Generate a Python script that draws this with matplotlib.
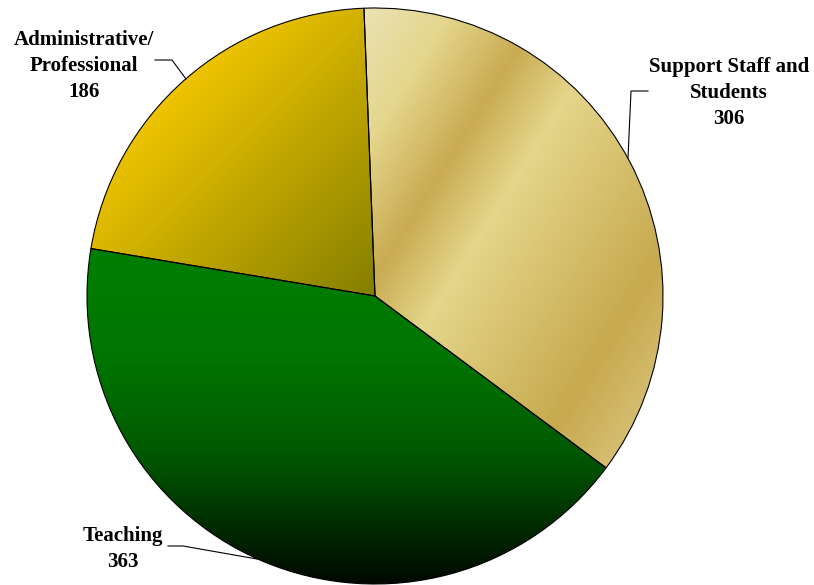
import numpy as np
import matplotlib
matplotlib.use("Agg")
import matplotlib.pyplot as plt
from matplotlib.colors import to_rgb

W, H = 814, 585

# staff counts, drawn clockwise from the top
labels = ["Support Staff and\nStudents", "Teaching", "Administrative/\nProfessional"]
counts = [306, 363, 186]

center = (375, H - 296)
radius = 288
start = 92.2

plt.rcParams['font.family'] = ['Liberation Serif', 'DejaVu Serif']

fig = plt.figure(figsize=(W / 100, H / 100), dpi=100)
ax = fig.add_axes([0, 0, 1, 1])

wedges, _ = ax.pie(counts, center=center, radius=radius, startangle=start,
                   counterclock=False,
                   wedgeprops=dict(facecolor='none', edgecolor='black', linewidth=0.8))

# pixel grid for the gradient fills (row 0 = top of figure)
X, Y = np.meshgrid(np.arange(W) + 0.5, np.arange(H) + 0.5)


def ramp(s, stops):
    pos = [p for p, c in stops]
    cols = np.array([to_rgb(c) for p, c in stops])
    return np.dstack([np.interp(s, pos, cols[:, k]) for k in range(3)])


# banded gold for support staff
s_gold = 0.85 * X + 0.53 * Y
gold = ramp(s_gold, [(300, '#ece4bc'), (390, '#e4d68c'), (466, '#c9ab52'),
                     (533, '#e4d68a'), (698, '#c7a94e'), (790, '#dcc57e')])

# green fading to near black toward the bottom
green = ramp(Y, [(240, '#008000'), (360, '#007400'), (430, '#006000'),
                 (470, '#005000'), (500, '#003c00'), (567, '#001200'),
                 (585, '#000800')])

# gold to olive, top-left to the centre
s_adm = X + Y
admin = ramp(s_adm, [(260, '#f0c500'), (665, '#857f00')])

for wedge, img in zip(wedges, [gold, green, admin]):
    im = ax.imshow(img, extent=(0, W, 0, H), origin='upper', zorder=1,
                   interpolation='bilinear')
    im.set_clip_path(wedge)
    wedge.set_zorder(2)

txt = dict(fontsize=15, fontweight='bold', ha='center', va='center',
           linespacing=1.38, color='black')

ax.text(729, H - 93, labels[0] + "\n" + str(counts[0]), **txt)
ax.text(123, H - 549, labels[1] + "\n" + str(counts[1]), **txt)
ax.text(84, H - 66, labels[2] + "\n" + str(counts[2]), **txt)

# leader lines
lk = dict(color='black', linewidth=0.8, zorder=3)
ax.plot([648, 631, 628], [H - 91, H - 91, H - 158], **lk)
ax.plot([168, 183, 257], [H - 546, H - 546, H - 559], **lk)
ax.plot([155, 172, 186], [H - 60, H - 60, H - 79], **lk)

ax.set_xlim(0, W)
ax.set_ylim(0, H)
ax.set_aspect('equal')
ax.axis('off')

fig.savefig("out.png", dpi=100, facecolor='white')
